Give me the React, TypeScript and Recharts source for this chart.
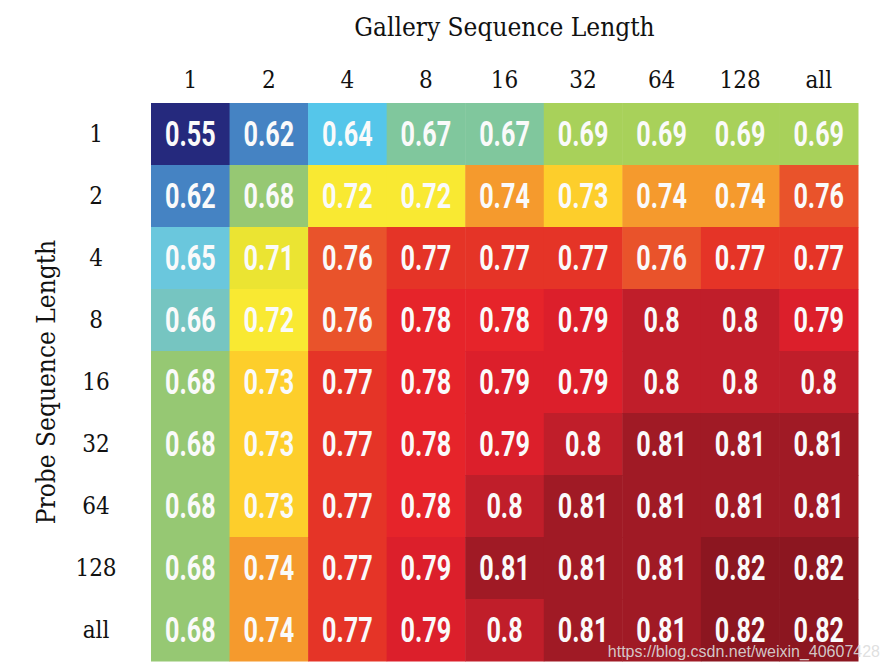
import { ScatterChart, Scatter, XAxis, YAxis } from 'recharts'

const galleryLengths = ['1', '2', '4', '8', '16', '32', '64', '128', 'all']
const probeLengths = ['1', '2', '4', '8', '16', '32', '64', '128', 'all']

// accuracy per probe length (rows), one value per gallery length
const probe1 = [0.55, 0.62, 0.64, 0.67, 0.67, 0.69, 0.69, 0.69, 0.69]
const probe2 = [0.62, 0.68, 0.72, 0.72, 0.74, 0.73, 0.74, 0.74, 0.76]
const probe4 = [0.65, 0.71, 0.76, 0.77, 0.77, 0.77, 0.76, 0.77, 0.77]
const probe8 = [0.66, 0.72, 0.76, 0.78, 0.78, 0.79, 0.8, 0.8, 0.79]
const probe16 = [0.68, 0.73, 0.77, 0.78, 0.79, 0.79, 0.8, 0.8, 0.8]
const probe32 = [0.68, 0.73, 0.77, 0.78, 0.79, 0.8, 0.81, 0.81, 0.81]
const probe64 = [0.68, 0.73, 0.77, 0.78, 0.8, 0.81, 0.81, 0.81, 0.81]
const probe128 = [0.68, 0.74, 0.77, 0.79, 0.81, 0.81, 0.81, 0.82, 0.82]
const probeAll = [0.68, 0.74, 0.77, 0.79, 0.8, 0.81, 0.81, 0.82, 0.82]

const rows = [probe1, probe2, probe4, probe8, probe16, probe32, probe64, probe128, probeAll]

const cells = rows.flatMap((row, r) => row.map((v, c) => ({ col: c, row: r, v })))

const palette: Record<string, string> = {
  '0.55': '#25297d',
  '0.62': '#4583c3',
  '0.64': '#55c6ea',
  '0.65': '#6ac7dd',
  '0.66': '#76c5c1',
  '0.67': '#80c79d',
  '0.68': '#96c873',
  '0.69': '#a8d15a',
  '0.71': '#ebe432',
  '0.72': '#f9e932',
  '0.73': '#fdce2b',
  '0.74': '#f59a2d',
  '0.76': '#e9532b',
  '0.77': '#e53427',
  '0.78': '#e6242a',
  '0.79': '#dc1f2b',
  '0.80': '#c01e2a',
  '0.81': '#a01a25',
  '0.82': '#8c1620',
}

const W = 890
const H = 668
const M = { top: 43, right: 32, bottom: 7, left: 0 }
const X_AXIS_H = 60
const Y_AXIS_W = 151
const cellW = (W - M.left - M.right - Y_AXIS_W) / galleryLengths.length
const cellH = (H - M.top - M.bottom - X_AXIS_H) / probeLengths.length

const labelFont = '"DejaVu Serif Condensed", "DejaVu Serif", serif'

function HeatCell(props: any) {
  const { cx, cy, payload } = props
  if (cx == null || cy == null) return null
  const fill = palette[payload.v.toFixed(2)]
  return (
    <g>
      <rect x={cx - cellW / 2} y={cy - cellH / 2} width={cellW + 0.5} height={cellH + 0.5} fill={fill} />
      <g transform={`translate(${cx},${cy}) scale(0.72,1)`}>
        <text
          x={0}
          y={12}
          textAnchor="middle"
          fill="#fafafa"
          fontFamily="Roboto, 'Noto Sans', sans-serif"
          fontWeight={700}
          fontSize={35}
        >
          {String(payload.v)}
        </text>
      </g>
    </g>
  )
}

function ProbeTick(props: any) {
  const { y, payload } = props
  return (
    <text x={96} y={y + 8} textAnchor="middle" fontFamily={labelFont} fontSize={24} fill="#111">
      {probeLengths[payload.value]}
    </text>
  )
}

export default function App() {
  return (
    <div style={{ position: 'absolute', left: 0, top: 0 }}>
      <ScatterChart width={W} height={H} margin={M}>
        <XAxis
          type="number"
          dataKey="col"
          orientation="top"
          domain={[-0.5, 8.5]}
          ticks={[0, 1, 2, 3, 4, 5, 6, 7, 8]}
          tickFormatter={(i: number) => galleryLengths[i]}
          height={X_AXIS_H}
          axisLine={false}
          tickLine={false}
          tickMargin={9}
          tick={{ fontFamily: labelFont, fontSize: 24, fill: '#111' }}
          label={{ value: 'Gallery Sequence Length', position: 'top', offset: 7, fontFamily: labelFont, fontSize: 26, fill: '#111' }}
        />
        <YAxis
          type="number"
          dataKey="row"
          reversed
          domain={[-0.5, 8.5]}
          ticks={[0, 1, 2, 3, 4, 5, 6, 7, 8]}
          width={Y_AXIS_W}
          axisLine={false}
          tickLine={false}
          tick={<ProbeTick />}
          label={{ value: 'Probe Sequence Length', angle: -90, position: 'center', dx: -30, fontFamily: labelFont, fontSize: 26, fill: '#111' }}
        />
        <Scatter data={cells} shape={<HeatCell />} isAnimationActive={false} />
      </ScatterChart>
      <svg width={W} height={H} style={{ position: 'absolute', left: 0, top: 0, pointerEvents: 'none' }}>
        <text x={880} y={657} textAnchor="end" fontFamily="'Liberation Sans', Arial, sans-serif" fontSize={16} fill="#dcdcdc" fillOpacity={0.9}>
          https://blog.csdn.net/weixin_40607428
        </text>
      </svg>
    </div>
  )
}
